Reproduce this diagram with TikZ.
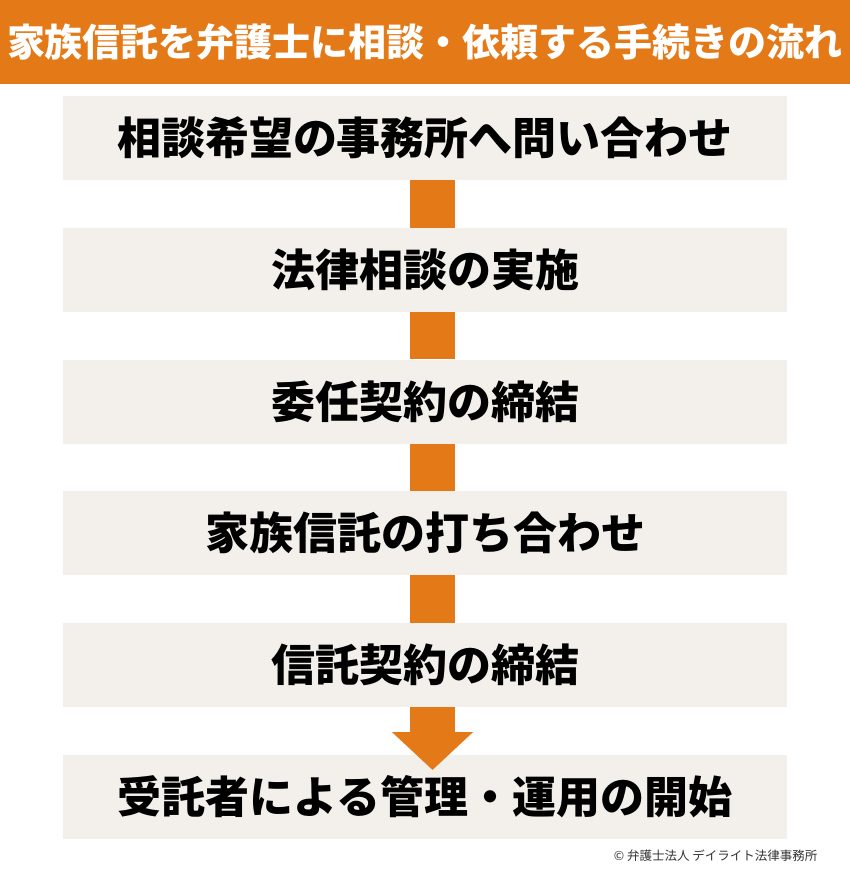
\documentclass[tikz,border=0pt]{standalone}
\usepackage{fontspec}
\usepackage{tikz}
\usetikzlibrary{arrows.meta}
\newfontfamily\cjk{Noto Sans CJK JP}
\definecolor{naranja}{HTML}{E47A17}
\definecolor{crema}{HTML}{F3EFEA}
\tikzstyle{titulo}=[fill=naranja,text=white,inner sep=0pt,minimum width=850pt,minimum height=84pt,font=\cjk\bfseries\fontsize{38}{40}\selectfont]
\tikzstyle{paso}=[fill=crema,inner sep=0pt,minimum width=724pt,minimum height=84pt,font=\cjk\bfseries\fontsize{44}{48}\selectfont]
\tikzstyle{enlace}=[draw=naranja,line width=45pt,line cap=butt]

\begin{document}
\begin{tikzpicture}[x=1pt,y=-1pt]
    \useasboundingbox (0,0) rectangle (850,876);
    \fill [white] (0,0) rectangle (850,876);
    \node [titulo] (t0) at (425, 42) {家族信託を弁護士に相談・依頼する手続きの流れ};
    \node [paso] (p1) at (425, 138) {相談希望の事務所へ問い合わせ};
    \node [paso] (p2) at (425, 270) {法律相談の実施};
    \node [paso] (p3) at (425, 401.5) {委任契約の締結};
    \node [paso] (p4) at (425, 533) {家族信託の打ち合わせ};
    \node [paso] (p5) at (425, 665) {信託契約の締結};
    \node [paso] (p6) at (425, 796.5) {受託者による管理・運用の開始};
    \draw [enlace] ([xshift=7.5pt]p1.south) -- ([xshift=7.5pt]p2.north);
    \draw [enlace] ([xshift=7.5pt]p2.south) -- ([xshift=7.5pt]p3.north);
    \draw [enlace] ([xshift=7.5pt]p3.south) -- ([xshift=7.5pt]p4.north);
    \draw [enlace] ([xshift=7.5pt]p4.south) -- ([xshift=7.5pt]p5.north);
    \coordinate (punta) at (432.5, 770);
    \draw [enlace,-{Triangle[width=79pt,length=38pt]},naranja] ([xshift=7.5pt]p5.south) -- (punta);
    \node [anchor=east,text=black!80,font=\cjk\fontsize{12.5}{14}\selectfont] (t7) at (821, 856) {© 弁護士法人 デイライト法律事務所};
\end{tikzpicture}
\end{document}
